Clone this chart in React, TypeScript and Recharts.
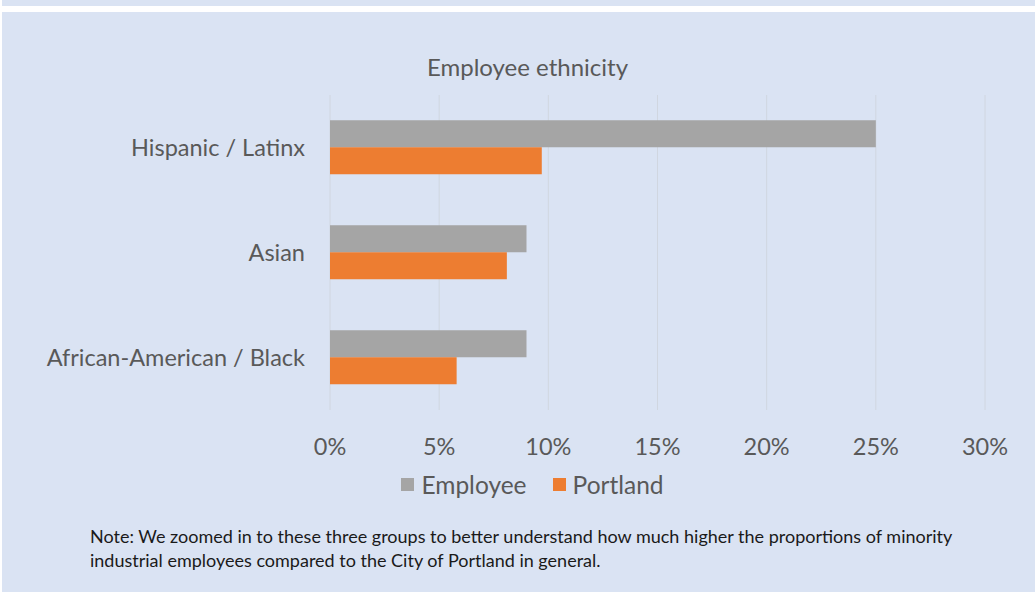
import { BarChart, Bar, XAxis, YAxis, CartesianGrid } from 'recharts';

const groups = ['Hispanic / Latinx', 'Asian', 'African-American / Black'];
const employee = [25, 9.0, 9.0];
const portland = [9.7, 8.1, 5.8];
const pctTicks = [0, 5, 10, 15, 20, 25, 30];

const series = [
  { key: 'employee', name: 'Employee', color: '#a5a5a5' },
  { key: 'portland', name: 'Portland', color: '#ed7d31' },
];

const data = groups.map((g, i) => ({ group: g, employee: employee[i], portland: portland[i] }));

const font = 'Lato, "Open Sans", sans-serif';
const textGray = '#595959';

function LegendBox() {
  return (
    <div style={{ display: 'flex', justifyContent: 'center', gap: 26, fontFamily: font, fontSize: 24.5, color: textGray }}>
      {series.map((s) => (
        <div key={s.key} style={{ display: 'flex', alignItems: 'center', gap: 7 }}>
          <div style={{ width: 13, height: 13, background: s.color }} />
          <span>{s.name}</span>
        </div>
      ))}
    </div>
  );
}

export default function App() {
  return (
    <div style={{ position: 'absolute', top: 0, left: 0, width: 1035, height: 592, background: '#fff', overflow: 'hidden' }}>
      <div style={{ position: 'absolute', top: 0, left: 2, right: 0, height: 6, background: '#dae3f3' }} />
      <div style={{ position: 'absolute', top: 12, left: 2, right: 0, bottom: 0, background: '#dae3f3' }} />
      <div
        style={{
          position: 'absolute', top: 52, left: 0, width: 1055, textAlign: 'center',
          fontFamily: font, fontSize: 24, color: textGray,
        }}
      >
        Employee ethnicity
      </div>
      <div style={{ position: 'absolute', top: 0, left: 0 }}>
        <BarChart
          width={1035}
          height={500}
          data={data}
          layout="vertical"
          margin={{ top: 95, right: 50, left: 0, bottom: 0 }}
          barCategoryGap="24%"
          barGap={0}
        >
          <CartesianGrid horizontal={false} stroke="#d0d6e0" />
          <XAxis
            type="number"
            domain={[0, 30]}
            ticks={pctTicks}
            tickFormatter={(v) => `${v}%`}
            axisLine={false}
            tickLine={false}
            tickSize={6}
            tickMargin={22}
            height={90}
            tick={{ fill: textGray, fontSize: 23.5, fontFamily: font }}
          />
          <YAxis
            type="category"
            dataKey="group"
            width={330}
            axisLine={false}
            tickLine={false}
            tickSize={6}
            tickMargin={19}
            tick={{ fill: textGray, fontSize: 23.5, fontFamily: font }}
          />
          {series.map((s) => (
            <Bar key={s.key} dataKey={s.key} name={s.name} fill={s.color} isAnimationActive={false} />
          ))}
        </BarChart>
      </div>
      <div style={{ position: 'absolute', top: 470, left: 0, width: 1065 }}>
        <LegendBox />
      </div>
      <div
        style={{
          position: 'absolute', top: 524, left: 90, width: 940,
          fontFamily: font, fontSize: 18, lineHeight: '24px', color: '#1a1a1a',
        }}
      >
        Note: We zoomed in to these three groups to better understand how much higher the proportions of minority
        <br />
        industrial employees compared to the City of Portland in general.
      </div>
    </div>
  );
}
